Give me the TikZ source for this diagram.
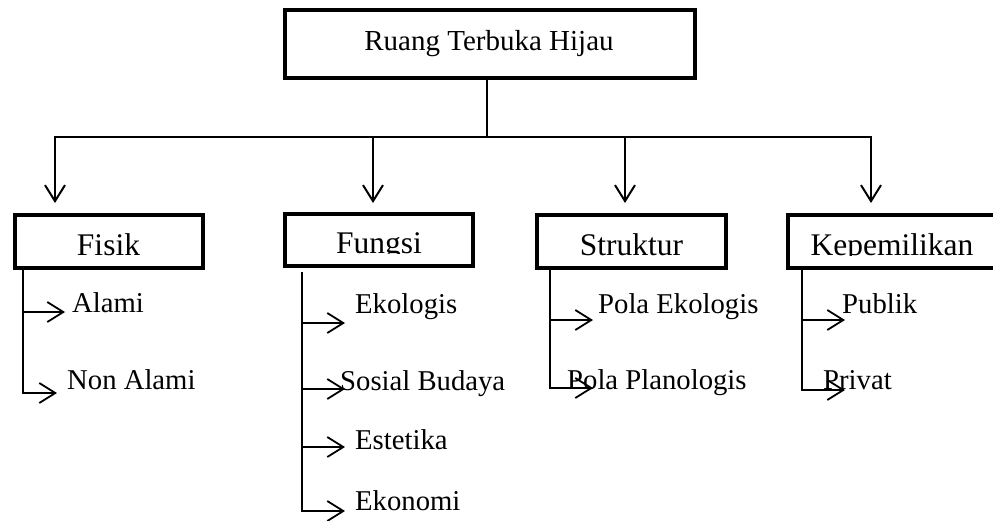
\documentclass[tikz,border=0pt]{standalone}
\usepackage{fontspec}
\setmainfont{Liberation Serif}
\usetikzlibrary{arrows.meta}
\newcommand{\fsTitle}{\fontsize{29}{34}\selectfont}
\newcommand{\fsCat}{\fontsize{31.5}{36}\selectfont}
\newcommand{\fsSub}{\fontsize{28.7}{34}\selectfont}
\begin{document}
\begin{tikzpicture}[x=1pt,y=-1pt,
  bigbox/.style={draw, line width=4pt, inner sep=0pt, outer sep=0pt},
  thinline/.style={line width=1.4pt},
  arr/.style={line width=2pt, -{Straight Barb[length=16pt,width=20pt]}},
  brline/.style={line width=1.8pt},
  brarr/.style={line width=1.8pt, -{Straight Barb[length=16pt,width=20pt]}},
  cat/.style={font=\fsCat, anchor=base, inner sep=0pt},
  sub/.style={font=\fsSub, anchor=base west, inner sep=0pt}]
\useasboundingbox (0,0) rectangle (993,520);

% top box
\node[bigbox, minimum width=410pt, minimum height=68pt] (rth) at (490,44) {};
\node[font=\fsTitle, anchor=base, inner sep=0pt] (rtht) at (489,50) {Ruang Terbuka Hijau};

% category boxes
\node[bigbox, minimum width=188pt, minimum height=53pt] (fisik) at (109,241.5) {};
\node[bigbox, minimum width=188pt, minimum height=52pt] (fungsi) at (379,240) {};
\node[bigbox, minimum width=189pt, minimum height=53pt] (struktur) at (631.5,241.5) {};
\node[bigbox, minimum width=209pt, minimum height=53pt] (kepem) at (892.5,241.5) {};

\node[cat] (fisikt) at (108.5,255) {Fisik};
\begin{scope}
  \clip (280,215) rectangle (480,253.6);
  \node[cat] (fungsit) at (379,253) {Fungsi};
\end{scope}
\node[cat] (strukturt) at (631.5,255) {Struktur};
\begin{scope}
  \clip (780,215) rectangle (993,255.6);
  \node[cat] (kepemt) at (892,255) {Kepemilikan};
\end{scope}

% top connectors
\coordinate (j) at (487,137);
\coordinate (jl) at (54,137);
\coordinate (jr) at (872,137);
\draw[thinline] (j |- rth.south) -- (j);
\draw[thinline] (jl) -- (jr);
\coordinate (t1) at (55,203);
\coordinate (t2) at (373,203);
\coordinate (t3) at (625,203);
\coordinate (t4) at (871,203);
\draw[arr] (t1 |- jl) -- (t1);
\draw[arr] (t2 |- jl) -- (t2);
\draw[arr] (t3 |- jl) -- (t3);
\draw[arr] (t4 |- jl) -- (t4);

% Fisik items
\node[sub] (alami) at (72,312.5) {Alami};
\node[sub] (nonalami) at (67,389) {Non Alami};
\coordinate (f0) at (23,270);
\coordinate (fa) at (65,312);
\coordinate (fb) at (57,393);
\draw[brarr] (f0) |- (fb);
\draw[brarr] (f0 |- fa) -- (fa);

% Fungsi items
\node[sub] (ekologis) at (355,313) {Ekologis};
\node[sub] (sosial) at (340,390) {Sosial Budaya};
\node[sub] (estetika) at (355,449) {Estetika};
\node[sub] (ekonomi) at (355,510) {Ekonomi};
\coordinate (g0) at (302,272);
\coordinate (ga) at (345,323);
\coordinate (gb) at (345,389);
\coordinate (gc) at (345,447);
\coordinate (gd) at (345,511);
\draw[brarr] (g0) |- (gd);
\draw[brarr] (g0 |- ga) -- (ga);
\draw[brarr] (g0 |- gb) -- (gb);
\draw[brarr] (g0 |- gc) -- (gc);

% Struktur items
\node[sub] (polaeko) at (598,313) {Pola Ekologis};
\node[sub] (polaplano) at (567,389) {Pola Planologis};
\coordinate (s0) at (550,269);
\coordinate (sa) at (593,320);
\coordinate (sb) at (593,388);
\draw[brarr] (s0) |- (sb);
\draw[brarr] (s0 |- sa) -- (sa);

% Kepemilikan items
\node[sub] (publik) at (842,313) {Publik};
\node[sub] (privat) at (823,389) {Privat};
\coordinate (k0) at (802,270);
\coordinate (ka) at (845,320);
\coordinate (kb) at (845,390);
\draw[brarr] (k0) |- (kb);
\draw[brarr] (k0 |- ka) -- (ka);
\end{tikzpicture}
\end{document}
